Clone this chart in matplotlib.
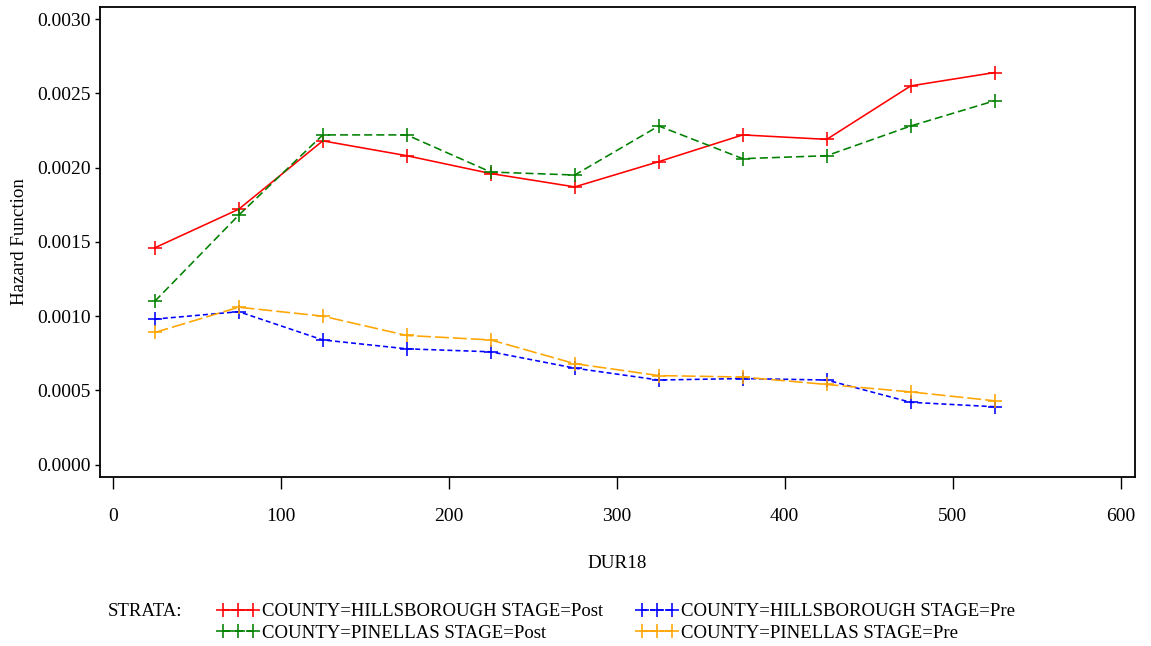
import matplotlib
matplotlib.use("Agg")
import matplotlib.pyplot as plt
from matplotlib.ticker import FormatStrFormatter

plt.rcParams["font.family"] = ["Liberation Serif", "DejaVu Serif"]
plt.rcParams["lines.scale_dashes"] = False

# Interval midpoints (days) and life-table hazard estimates per stratum
dur18 = [25, 75, 125, 175, 225, 275, 325, 375, 425, 475, 525]

hills_post = [0.00146, 0.00172, 0.00218, 0.00208, 0.00196, 0.00187,
              0.00204, 0.00222, 0.00219, 0.00255, 0.00264]
pinel_post = [0.00110, 0.00168, 0.00222, 0.00222, 0.00197, 0.00195,
              0.00228, 0.00206, 0.00208, 0.00228, 0.00245]
hills_pre = [0.00098, 0.00103, 0.00084, 0.00078, 0.00076, 0.00065,
             0.00057, 0.00058, 0.00057, 0.00042, 0.00039]
pinel_pre = [0.00089, 0.00106, 0.00100, 0.00087, 0.00084, 0.00068,
             0.00060, 0.00059, 0.00054, 0.00049, 0.00043]

labels = ["COUNTY=HILLSBOROUGH STAGE=Post",
          "COUNTY=PINELLAS STAGE=Post",
          "COUNTY=HILLSBOROUGH STAGE=Pre",
          "COUNTY=PINELLAS STAGE=Pre"]
series = [hills_post, pinel_post, hills_pre, pinel_pre]
colors = ["#FF0000", "#008000", "#0000FF", "#FFA500"]
styles = ["-", (0, (5.8, 2.9)), (0, (3.6, 2.2)), (0, (10.0, 2.9))]

x_ticks = [0, 100, 200, 300, 400, 500, 600]
y_ticks = [0.0000, 0.0005, 0.0010, 0.0015, 0.0020, 0.0025, 0.0030]

fig = plt.figure(figsize=(11.51, 6.46), dpi=100)
ax = fig.add_axes([100 / 1151, (646 - 477) / 646, 1035 / 1151, 470 / 646])

for ys, lab, col, ls in zip(series, labels, colors, styles):
    ax.plot(dur18, ys, color=col, linestyle=ls, linewidth=1.15,
            marker="+", markersize=10.5, markeredgewidth=1.15, label=lab)

ax.set_xlim(-7.6, 608.5)
ax.set_ylim(-0.0000828, 0.003081)
ax.set_xticks(x_ticks)
ax.set_yticks(y_ticks)
ax.yaxis.set_major_formatter(FormatStrFormatter("%.4f"))

for sp in ax.spines.values():
    sp.set_linewidth(1.3)
ax.tick_params(axis="x", direction="out", length=8.6, width=1.0,
               pad=13.5, labelsize=14)
ax.tick_params(axis="y", direction="out", length=3.6, width=1.0,
               pad=3.2, labelsize=14)

ax.set_xlabel("DUR18", fontsize=13.7, va="center")
ax.xaxis.set_label_coords(0.5, -0.183)
ax.set_ylabel("Hazard Function", fontsize=13.7, va="center")
ax.yaxis.set_label_coords(-0.078, 0.5)

fig.text(108 / 1151, 1 - 611 / 646, "STRATA:", fontsize=13.5,
         ha="left", va="center")
leg = fig.legend(loc="upper left", bbox_to_anchor=(217 / 1151, 1 - 603 / 646),
                 ncol=2, frameon=False, fontsize=13.5, numpoints=3,
                 handlelength=2.2, handletextpad=0.2, columnspacing=1.75,
                 labelspacing=0.25, borderpad=0, borderaxespad=0)

fig.savefig("out.png", dpi=100)
